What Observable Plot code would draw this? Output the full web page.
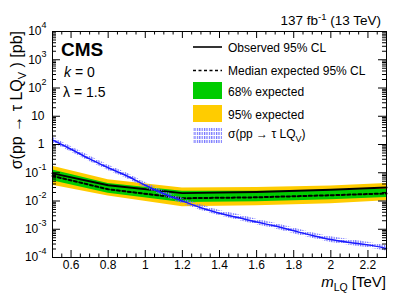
<!DOCTYPE html>
<html><head><meta charset="utf-8">
<script src="https://cdn.jsdelivr.net/npm/d3@7"></script>
<script src="https://cdn.jsdelivr.net/npm/@observablehq/plot@0.6"></script>
<style>body{margin:0;background:#fff}#chart{width:407px;height:294px}</style>
</head><body><div id="chart"></div>
<script>
// ---- data ----
const mass        = [0.5,   0.8,   1.2,    1.6,    2.0,    2.3];
const observed    = [0.095, 0.036, 0.019,  0.021,  0.025,  0.030];
const expected    = [0.077, 0.026, 0.0125, 0.0135, 0.016,  0.0185];
const band68Lo    = [0.052, 0.019, 0.0088, 0.0095, 0.011,  0.0133];
const band68Hi    = [0.125, 0.042, 0.022,  0.022,  0.024,  0.026];
const band95Lo    = [0.036, 0.015, 0.0063, 0.0068, 0.0080, 0.0102];
const band95Hi    = [0.17,  0.056, 0.029,  0.030,  0.034,  0.042];

const theoryMass  = [0.5, 0.6, 0.7, 0.8, 0.9, 1.0, 1.1, 1.2, 1.3, 1.4, 1.5, 1.6, 1.7, 1.8, 1.9, 2.0, 2.1, 2.2, 2.3];
const theoryXsec  = [1.45, 0.68, 0.31, 0.15, 0.078, 0.036, 0.018, 0.0100, 0.0058, 0.0037, 0.0026, 0.0018, 0.0013, 0.00088, 0.00060, 0.00043, 0.00034, 0.00028, 0.00021];
const theoryLo    = [1.16, 0.54, 0.25, 0.12, 0.062, 0.029, 0.0144, 0.0080, 0.0046, 0.0030, 0.0021, 0.00144, 0.00104, 0.00070, 0.00048, 0.00034, 0.00027, 0.00022, 0.00017];
const theoryHi    = [1.81, 0.85, 0.39, 0.19, 0.098, 0.045, 0.0225, 0.0125, 0.0073, 0.0046, 0.0033, 0.00225, 0.00163, 0.00110, 0.00075, 0.00054, 0.00043, 0.00035, 0.00026];

const xMajor = [0.6, 0.8, 1.0, 1.2, 1.4, 1.6, 1.8, 2.0, 2.2];
const yMajor = [1e-4, 1e-3, 1e-2, 1e-1, 1, 10, 1e2, 1e3, 1e4];
const yBase  = ["10", "10", "10", "10", "1", "10", "10", "10", "10"];
const yExp   = ["-4", "-3", "-2", "-1", "", "", "2", "3", "4"];

// ---- layout ----
const W = 407, H = 294, mL = 52, mR = 21, mT = 31, mB = 37;
const iW = W - mL - mR, iH = H - mT - mB;
const font = "'Liberation Sans', Arial, Helvetica, sans-serif";

const bands = mass.map((m, i) => ({m, obs: observed[i], exp: expected[i], g1: band68Lo[i], g2: band68Hi[i], y1: band95Lo[i], y2: band95Hi[i]}));
const theory = theoryMass.map((m, i) => ({m, xs: theoryXsec[i], lo: theoryLo[i], hi: theoryHi[i]}));

const yMinor = [];
for (let k = -4; k < 4; k++) for (let j = 2; j <= 9; j++) yMinor.push(j * Math.pow(10, k));
const xMinor = d3.range(0, 37).map(i => +(0.5 + i * 0.05).toFixed(2)).filter(v => !xMajor.some(M => Math.abs(M - v) < 1e-6));

const labels = yMajor.map((v, i) => ({v, base: yBase[i], exp: yExp[i]}));
const expWidth = s => s.split("").reduce((a, c) => a + (c === "-" ? 3.2 : 5), 0);

const plot = Plot.plot({
  width: W, height: H,
  marginLeft: mL, marginRight: mR, marginTop: mT, marginBottom: mB,
  style: {fontFamily: font, fontSize: "12px", background: "white", color: "black"},
  x: {domain: [0.5, 2.3]},
  y: {type: "log", domain: [1e-4, 1e4], axis: null},
  marks: [
    Plot.areaY(bands, {x: "m", y1: "y1", y2: "y2", fill: "#ffcc00"}),
    Plot.areaY(bands, {x: "m", y1: "g1", y2: "g2", fill: "#00cc00"}),
    Plot.lineY(bands, {x: "m", y: "exp", stroke: "black", strokeWidth: 2, strokeDasharray: "3,2.5"}),
    Plot.lineY(bands, {x: "m", y: "obs", stroke: "black", strokeWidth: 2}),
    Plot.areaY(theory, {x: "m", y1: "lo", y2: "hi", fill: "url(#hatch)"}),
    Plot.lineY(theory, {x: "m", y: "xs", stroke: "#1a1aff", strokeWidth: 1.5, curve: "monotone-x"}),
    // ticks (inside the frame, ROOT style)
    Plot.tickY(yMajor, {y: d => d, insetRight: iW - 8, stroke: "black"}),
    Plot.tickY(yMinor, {y: d => d, insetRight: iW - 4, stroke: "black"}),
    Plot.tickY(yMajor, {y: d => d, insetLeft: iW - 8, stroke: "black"}),
    Plot.tickY(yMinor, {y: d => d, insetLeft: iW - 4, stroke: "black"}),
    Plot.tickX(xMajor, {x: d => d, insetTop: iH - 7, stroke: "black"}),
    Plot.tickX(xMinor, {x: d => d, insetTop: iH - 3.5, stroke: "black"}),
    Plot.tickX(xMajor, {x: d => d, insetBottom: iH - 7, stroke: "black"}),
    Plot.tickX(xMinor, {x: d => d, insetBottom: iH - 3.5, stroke: "black"}),
    Plot.frame({stroke: "black"}),
    Plot.axisX({ticks: xMajor, tickSize: 0, tickPadding: 3, label: null, tickFormat: d3.format("~g"), fontSize: 12}),
    // y tick labels: base "10" plus superscript exponent
    ...labels.map(l => Plot.text([l], {y: "v", text: "base", frameAnchor: "left", textAnchor: "end", fontSize: 12,
      dx: l.exp ? -6 - expWidth(l.exp) : -8})),
    Plot.text(labels.filter(l => l.exp), {y: "v", text: "exp", frameAnchor: "left", textAnchor: "end", fontSize: 9, dx: -6, dy: -6})
  ]
});

const svg = d3.select(plot);
svg.insert("defs", ":first-child").html(
  `<pattern id="hatch" patternUnits="userSpaceOnUse" width="2.4" height="4">
     <rect x="0" y="0" width="1.2" height="3" fill="#7272ff"/>
   </pattern>`);

const g = svg.append("g").attr("font-family", font).attr("fill", "black").attr("text-anchor", "start");
function txt(x, y, size, opts = {}) {
  const t = g.append("text").attr("x", x).attr("y", y).attr("font-size", size)
    .attr("text-anchor", opts.anchor || "start");
  if (opts.weight) t.attr("font-weight", opts.weight);
  return t;
}
// top-right luminosity label
{
  const t = txt(381, 25, 13.5, {anchor: "end"});
  t.append("tspan").text("137 fb");
  t.append("tspan").attr("font-size", 9.5).attr("dy", -5.5).text("-1");
  t.append("tspan").attr("dy", 5.5).text(" (13 TeV)");
}
// CMS + parameters
txt(61, 56, 19, {weight: "bold"}).text("CMS");
{
  const t = txt(64, 77, 14);
  t.append("tspan").attr("font-style", "italic").text("k");
  t.append("tspan").text(" = 0");
}
txt(63, 97, 14).text("λ = 1.5");

// axis titles
{
  const t = txt(386, 287, 15, {anchor: "end"});
  t.append("tspan").attr("font-style", "italic").text("m");
  t.append("tspan").attr("font-size", 10.5).attr("dy", 3.5).text("LQ");
  t.append("tspan").attr("dy", -3.5).text(" [TeV]");
}
{
  const t = g.append("text").attr("transform", "translate(22,31) rotate(-90)")
    .attr("text-anchor", "end").attr("font-size", 16);
  t.append("tspan").text("σ(pp → τ LQ");
  t.append("tspan").attr("font-size", 11).attr("dy", 4).text("V");
  t.append("tspan").attr("dy", -4).text(" ) [pb]");
}

// legend
const lx = 193, lw = 29, tx = 228;
g.append("line").attr("x1", lx).attr("x2", lx + lw).attr("y1", 47).attr("y2", 47).attr("stroke", "black").attr("stroke-width", 1.6);
g.append("line").attr("x1", lx).attr("x2", lx + lw).attr("y1", 70.5).attr("y2", 70.5).attr("stroke", "black").attr("stroke-width", 1.6).attr("stroke-dasharray", "3,2.5");
g.append("rect").attr("x", lx).attr("y", 82).attr("width", lw).attr("height", 17).attr("fill", "#00cc00");
g.append("rect").attr("x", lx).attr("y", 105).attr("width", lw).attr("height", 17).attr("fill", "#ffcc00");
g.append("rect").attr("x", lx).attr("y", 127).attr("width", lw).attr("height", 16).attr("fill", "url(#hatch)");
txt(tx, 51.5, 12).text("Observed 95% CL");
txt(tx, 75, 12).text("Median expected 95% CL");
txt(tx, 95.5, 12).text("68% expected");
txt(tx, 118.5, 12).text("95% expected");
{
  const t = txt(tx, 138, 12);
  t.append("tspan").text("σ(pp → τ LQ");
  t.append("tspan").attr("font-size", 9).attr("dy", 3.5).text("V");
  t.append("tspan").attr("dy", -3.5).text(")");
}

document.getElementById("chart").append(plot);
</script>
</body></html>
